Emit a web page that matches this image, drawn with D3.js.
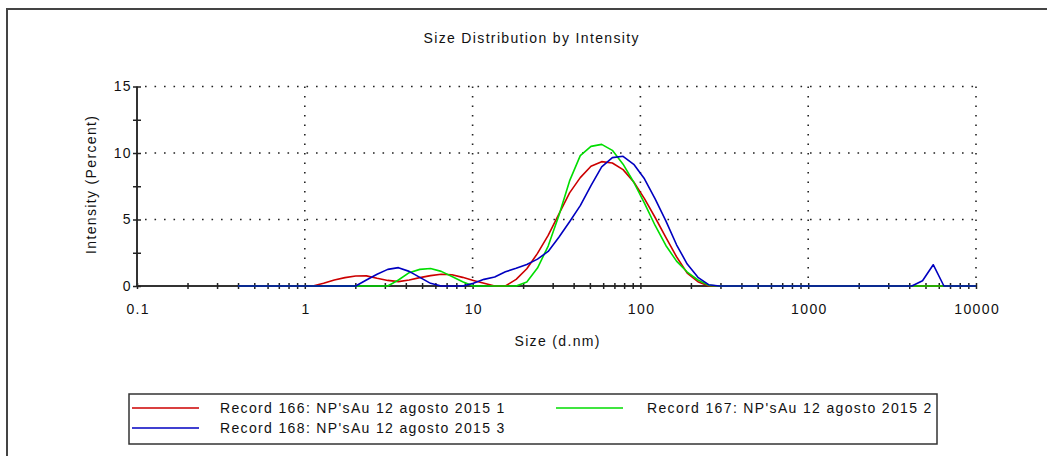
<!DOCTYPE html>
<html>
<head>
<meta charset="utf-8">
<script src="https://cdn.jsdelivr.net/npm/d3@7"></script>
<style>
  html, body { margin: 0; padding: 0; background: #fff; }
  svg { display: block; }
  text { font-family: "Liberation Sans", Arial, sans-serif; fill: #111; font-size: 14px; letter-spacing: 1.35px; }
</style>
</head>
<body>
<svg id="chart" width="1047" height="456"></svg>
<script>
// ---- data ----
const chartTitle = "Size Distribution by Intensity";
const xAxisTitle = "Size (d.nm)";
const yAxisTitle = "Intensity (Percent)";

const sizes = [0.4, 0.4632, 0.5365, 0.6213, 0.7195, 0.8332, 0.9649, 1.117, 1.294, 1.499,
  1.736, 2.010, 2.328, 2.696, 3.122, 3.615, 4.187, 4.849, 5.615, 6.503,
  7.531, 8.721, 10.10, 11.70, 13.54, 15.69, 18.17, 21.04, 24.36, 28.21,
  32.67, 37.84, 43.82, 50.75, 58.77, 68.06, 78.82, 91.28, 105.7, 122.4,
  141.8, 164.2, 190.1, 220.2, 255.0, 295.3, 342.0, 396.1, 458.7, 531.2,
  615.1, 712.4, 825.0, 955.4, 1106, 1281, 1484, 1718, 1990, 2305,
  2669, 3091, 3580, 4145, 4801, 5560, 6439, 7456, 8635, 10000];

const record166 = [0, 0, 0, 0, 0, 0, 0, 0, 0.2, 0.45,
  0.63, 0.75, 0.76, 0.58, 0.42, 0.33, 0.45, 0.63, 0.78, 0.88,
  0.85, 0.65, 0.42, 0.2, 0, 0, 0.5, 1.3, 2.45, 3.8,
  5.4, 7.0, 8.15, 9.0, 9.35, 9.25, 8.75, 7.82, 6.57, 5.15,
  3.65, 2.2, 0.97, 0.32, 0, 0, 0, 0, 0, 0,
  0, 0, 0, 0, 0, 0, 0, 0, 0, 0,
  0, 0, 0, 0, 0, 0, 0, 0, 0, 0];

const record167 = [0, 0, 0, 0, 0, 0, 0, 0, 0, 0,
  0, 0, 0, 0, 0, 0.45, 1.0, 1.25, 1.32, 1.1,
  0.72, 0.32, 0, 0, 0, 0, 0, 0.3, 1.35, 3.0,
  5.3, 7.9, 9.8, 10.5, 10.65, 10.2, 9.16, 7.8, 6.23, 4.55,
  3.05, 1.87, 1.05, 0.45, 0.05, 0, 0, 0, 0, 0,
  0, 0, 0, 0, 0, 0, 0, 0, 0, 0,
  0, 0, 0, 0, 0, 0, 0, 0, 0, 0];

const record168 = [0, 0, 0, 0, 0, 0, 0, 0, 0, 0,
  0, 0, 0.45, 0.88, 1.25, 1.38, 1.1, 0.65, 0.2, 0,
  0, 0, 0.2, 0.5, 0.68, 1.07, 1.33, 1.62, 2.02, 2.6,
  3.66, 4.83, 6.04, 7.55, 8.95, 9.65, 9.75, 9.15, 8.06, 6.55,
  4.9, 3.1, 1.65, 0.65, 0.1, 0, 0, 0, 0, 0,
  0, 0, 0, 0, 0, 0, 0, 0, 0, 0,
  0, 0, 0, 0, 0.4, 1.6, 0, 0, 0, 0];

const seriesNames = ["Record 166: NP'sAu 12 agosto 2015 1",
                     "Record 167: NP'sAu 12 agosto 2015 2",
                     "Record 168: NP'sAu 12 agosto 2015 3"];
const seriesValues = [record166, record167, record168];
const seriesColors = ["#cc0000", "#00dd00", "#0000c0"];

const xTickValues = [0.1, 1, 10, 100, 1000, 10000];
const xTickLabels = ["0.1", "1", "10", "100", "1000", "10000"];
const yTickValues = [0, 5, 10, 15];
const yTickLabels = ["0", "5", "10", "15"];
const yMinorTicks = [2.5, 7.5, 12.5];

// ---- layout ----
const svg = d3.select("#chart");
const pLeft = 137, pRight = 976, pTop = 86.5, pBottom = 286;
const ls = 1.35; // letter spacing, used to re-centre middle-anchored text
const x = d3.scaleLog().domain([0.1, 10000]).range([pLeft, pRight]);
const y = d3.scaleLinear().domain([0, 15]).range([pBottom, pTop]);

// outer frame
svg.append("path")
  .attr("d", `M7,460 L7,9 L1052,9`)
  .attr("fill", "none").attr("stroke", "#444").attr("stroke-width", 2);

// title
svg.append("text").attr("x", 531).attr("y", 43).attr("dx", ls / 2)
  .attr("text-anchor", "middle").text(chartTitle);

// grid
const grid = svg.append("g").attr("stroke", "#222").attr("stroke-width", 1.6)
  .attr("stroke-dasharray", "1.6,7.9").attr("fill", "none");
yTickValues.filter(v => v > 0).forEach(v => {
  grid.append("line").attr("x1", pLeft + 8).attr("x2", pRight)
    .attr("y1", y(v)).attr("y2", y(v));
});
xTickValues.filter(v => v > 0.1).forEach(v => {
  grid.append("line").attr("x1", x(v)).attr("x2", x(v))
    .attr("y1", pTop).attr("y2", pBottom - 6);
});

// x axis
const allXTicks = x.ticks().filter(v => v >= 0.1 && v <= 10000);
const xAxis = d3.axisBottom(x).tickValues(allXTicks)
  .tickSize(3).tickPadding(15)
  .tickFormat(v => { const i = xTickValues.findIndex(t => Math.abs(t - v) / t < 1e-6); return i >= 0 ? xTickLabels[i] : ""; });
const gx = svg.append("g").attr("transform", `translate(0,${pBottom})`).call(xAxis);
gx.attr("font-size", null).attr("font-family", null);
gx.select(".domain").attr("stroke", "#333").attr("stroke-width", 2).attr("d", `M${pLeft},0H${pRight}`);
gx.selectAll(".tick line").attr("y1", -3).attr("y2", 3).attr("stroke", "#222").attr("stroke-width", 1.5);
gx.selectAll(".tick text").attr("fill", "#111").attr("dx", ls / 2);

// y axis
const yAxis = d3.axisLeft(y).tickValues(yTickValues.concat(yMinorTicks))
  .tickSize(4).tickPadding(1)
  .tickFormat(v => { const i = yTickValues.indexOf(v); return i >= 0 ? yTickLabels[i] : ""; });
const gy = svg.append("g").attr("transform", `translate(${pLeft},0)`).call(yAxis);
gy.attr("font-size", null).attr("font-family", null);
gy.select(".domain").attr("stroke", "#333").attr("stroke-width", 2).attr("d", `M0,${pTop}V${pBottom}`);
gy.selectAll(".tick line").attr("x1", -4).attr("x2", 4).attr("stroke", "#222").attr("stroke-width", 1.5);
gy.selectAll(".tick text").attr("fill", "#111");

// axis titles
svg.append("text").attr("x", 557).attr("y", 346).attr("dx", ls / 2).attr("text-anchor", "middle")
  .text(xAxisTitle);
svg.append("text").attr("transform", "translate(96,185) rotate(-90)").attr("dx", ls / 2)
  .attr("text-anchor", "middle").text(yAxisTitle);

// curves
const line = d3.line().x((d, i) => x(sizes[i])).y(d => y(d));
seriesValues.forEach((vals, k) => {
  svg.append("path").datum(vals).attr("d", line)
    .attr("fill", "none").attr("stroke", seriesColors[k]).attr("stroke-width", 1.6)
    .attr("stroke-linejoin", "round");
});

// legend
const lg = svg.append("g");
lg.append("rect").attr("x", 129).attr("y", 394).attr("width", 808).attr("height", 50)
  .attr("fill", "none").attr("stroke", "#333").attr("stroke-width", 1.5);
const legendPos = [[132, 408], [556, 408], [132, 428]];
seriesNames.forEach((name, k) => {
  const [lx, ly] = legendPos[k];
  lg.append("line").attr("x1", lx).attr("x2", lx + 67).attr("y1", ly).attr("y2", ly)
    .attr("stroke", seriesColors[k]).attr("stroke-width", 1.6);
  lg.append("text").attr("x", lx + 88 + (k === 1 ? 3 : 0)).attr("y", ly + 5)
    .text(name);
});
</script>
</body>
</html>
